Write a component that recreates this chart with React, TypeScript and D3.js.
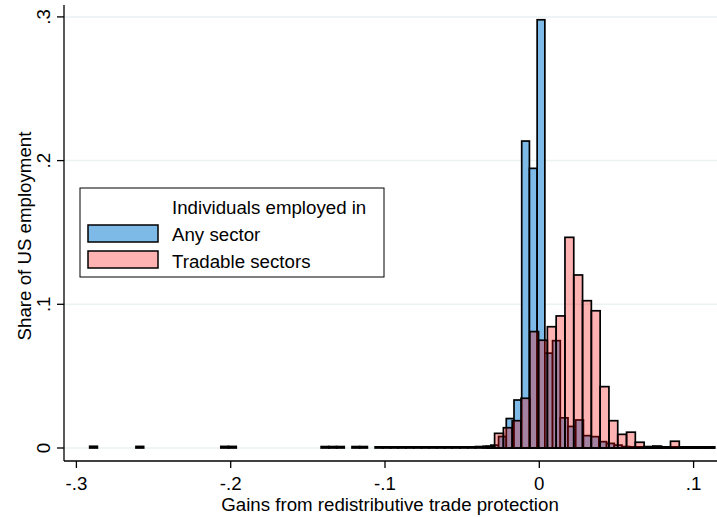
import React from "react";
import * as d3 from "d3";

// ---- Data ----
// "Any sector" histogram: bins of width 0.005 starting at -0.2914
const blueStart = -0.2914;
const blueWidth = 0.005;
const blueValues = [
  0.0012, 0, 0, 0, 0, 0, 0.0011, 0, 0, 0,
  0, 0, 0, 0, 0, 0, 0, 0.0011, 0.0011, 0,
  0, 0, 0, 0, 0, 0, 0, 0, 0, 0,
  0.001, 0.001, 0.001, 0, 0.001, 0.001, 0, 0.0008, 0.0008, 0.0008,
  0.0008, 0.0008, 0.0008, 0.0008, 0.0008, 0.0008, 0.0008, 0.0008, 0.0008, 0.0008,
  0.001, 0.0012, 0.002, 0.008, 0.0205, 0.0334, 0.2136, 0.1946, 0.298, 0.066,
  0.0747, 0.021, 0.015, 0.0195, 0.0086, 0.0079, 0.0044, 0.0032, 0.002, 0.001,
  0.0008, 0.0008, 0.0008, 0.0012, 0.0008, 0.0008, 0.0008, 0.0008, 0.0008, 0.0008,
  0.0008,
];

// "Tradable sectors" histogram: bins of width 0.0057 starting at -0.03467
const pinkStart = -0.03467;
const pinkWidth = 0.0057;
const pinkValues = [
  0.0012, 0.0102, 0.0141, 0.019, 0.0346, 0.081, 0.075, 0.0844, 0.0919, 0.1466,
  0.1204, 0.1025, 0.0955, 0.0427, 0.019, 0.0095, 0.011, 0.004, 0.001, 0.0012,
  0.0008, 0.0047, 0.0008, 0.0008, 0.0008, 0.0008,
];

const xTicks = [-0.3, -0.2, -0.1, 0, 0.1];
const xTickLabels = ["-.3", "-.2", "-.1", "0", ".1"];
const yTicks = [0, 0.1, 0.2, 0.3];
const yTickLabels = ["0", ".1", ".2", ".3"];

const legendTitle = "Individuals employed in";
const seriesNames = ["Any sector", "Tradable sectors"];
const xTitle = "Gains from redistributive trade protection";
const yTitle = "Share of US employment";

// ---- Layout ----
const W = 717;
const H = 517;
const plotLeft = 64;
const plotRight = 717;
const plotTop = 5;
const plotBottom = 461;
const FONT = "'Liberation Sans', Arial, Helvetica, sans-serif";
const FS = 18.7;

const blueFill = "rgb(125,186,232)";
const pinkFill = "rgba(255,0,0,0.3)";
const gridColor = "rgb(234,242,243)";

export default function App() {
  const x = d3.scaleLinear().domain([-0.3, 0.1]).range([76.4, 693.6]);
  const y = d3.scaleLinear().domain([0, 0.3]).range([448, 16.9]);

  const blueBars = blueValues
    .map((v, i) => ({ x0: blueStart + i * blueWidth, x1: blueStart + (i + 1) * blueWidth, v }))
    .filter((d) => d.v > 0);
  const pinkBars = pinkValues
    .map((v, i) => ({ x0: pinkStart + i * pinkWidth, x1: pinkStart + (i + 1) * pinkWidth, v }))
    .filter((d) => d.v > 0);

  const barRect = (d: { x0: number; x1: number; v: number }, fill: string, key: string) => (
    <rect
      key={key}
      x={x(d.x0)}
      y={y(d.v)}
      width={x(d.x1) - x(d.x0)}
      height={y(0) - y(d.v)}
      fill={fill}
      stroke="#000"
      strokeWidth={1.7}
    />
  );

  return (
    <svg
      width={W}
      height={H}
      style={{ position: "absolute", left: 0, top: 0, background: "#fff" }}
      fontFamily={FONT}
    >
      <rect x={0} y={0} width={W} height={H} fill="#fff" />
      {/* grid lines */}
      {yTicks.map((t) => (
        <line key={"g" + t} x1={plotLeft} x2={plotRight} y1={y(t)} y2={y(t)} stroke={gridColor} strokeWidth={1.5} />
      ))}
      {/* bars */}
      {blueBars.map((d, i) => barRect(d, blueFill, "b" + i))}
      {pinkBars.map((d, i) => barRect(d, pinkFill, "p" + i))}
      {/* axes */}
      <line x1={plotLeft} x2={plotLeft} y1={plotTop} y2={plotBottom} stroke="#000" strokeWidth={1.3} />
      <line x1={plotLeft} x2={plotRight} y1={plotBottom} y2={plotBottom} stroke="#000" strokeWidth={1.3} />
      {yTicks.map((t, i) => (
        <g key={"yt" + t}>
          <line x1={plotLeft - 7} x2={plotLeft} y1={y(t)} y2={y(t)} stroke="#000" strokeWidth={1.3} />
          <text
            transform={`translate(50,${y(t)}) rotate(-90)`}
            textAnchor="middle"
            fontSize={FS}
            fill="#000"
          >
            {yTickLabels[i]}
          </text>
        </g>
      ))}
      {xTicks.map((t, i) => (
        <g key={"xt" + t}>
          <line x1={x(t)} x2={x(t)} y1={plotBottom} y2={plotBottom + 7} stroke="#000" strokeWidth={1.3} />
          <text x={x(t)} y={490} textAnchor="middle" fontSize={FS} fill="#000">
            {xTickLabels[i]}
          </text>
        </g>
      ))}
      <text x={390} y={511} textAnchor="middle" fontSize={FS} fill="#000">
        {xTitle}
      </text>
      <text transform={`translate(31,236) rotate(-90)`} textAnchor="middle" fontSize={FS} fill="#000">
        {yTitle}
      </text>
      {/* legend */}
      <rect x={80} y={188} width={304} height={89} fill="#fff" stroke="#000" strokeWidth={1} />
      <text x={172} y={214} fontSize={FS} fill="#000">
        {legendTitle}
      </text>
      <rect x={88} y={225} width={70} height={17} fill={blueFill} stroke="#000" strokeWidth={1.5} />
      <text x={172} y={241} fontSize={FS} fill="#000">
        {seriesNames[0]}
      </text>
      <rect x={88} y={251} width={70} height={17} fill={pinkFill} stroke="#000" strokeWidth={1.5} />
      <text x={172} y={268} fontSize={FS} fill="#000">
        {seriesNames[1]}
      </text>
    </svg>
  );
}
